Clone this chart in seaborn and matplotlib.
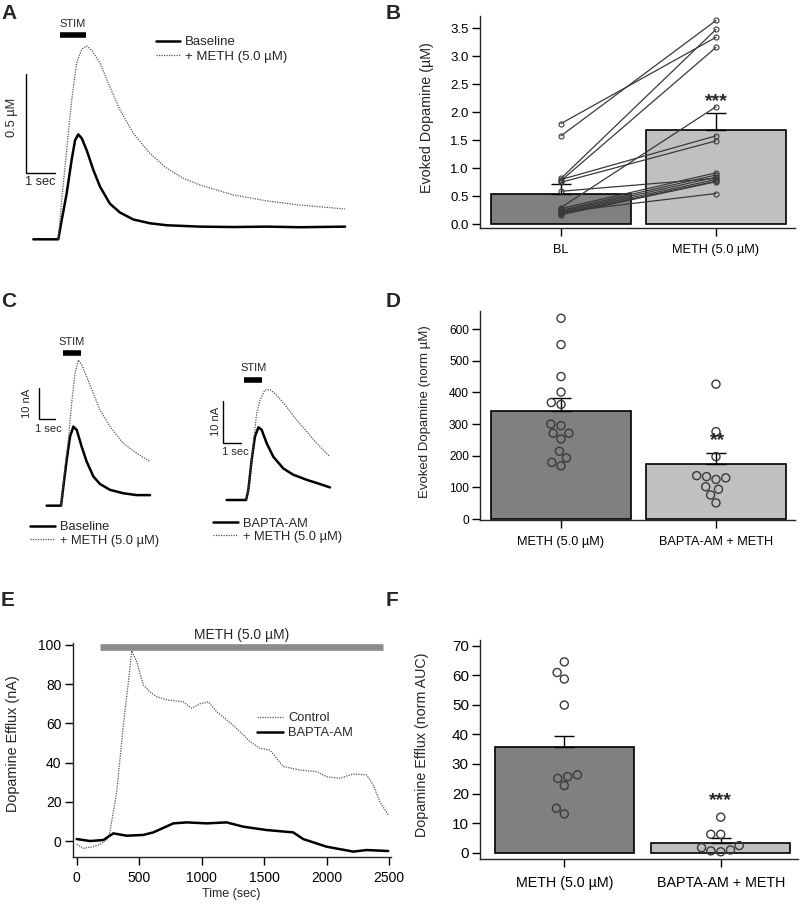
import numpy as np
import pandas as pd
import matplotlib
matplotlib.use("Agg")
import matplotlib.pyplot as plt
import seaborn as sns

# ---------------- data ----------------
# Panel A traces (time in s, dopamine in µM)
a_base_t = [0, 0.86, 0.98, 1.15, 1.32, 1.44, 1.55, 1.67, 1.84, 2.07, 2.30, 2.64, 2.99, 3.45, 4.02, 4.60, 5.75, 6.90, 8.05, 9.20, 10.75]
a_base_v = [0, 0, 0.098, 0.232, 0.40, 0.50, 0.53, 0.51, 0.45, 0.35, 0.266, 0.18, 0.135, 0.10, 0.081, 0.071, 0.064, 0.062, 0.064, 0.061, 0.064]
a_meth_t = [0.86, 0.98, 1.15, 1.32, 1.49, 1.67, 1.84, 2.01, 2.30, 2.64, 2.99, 3.45, 4.02, 4.60, 5.17, 5.75, 6.90, 8.05, 9.20, 10.75]
a_meth_v = [0, 0.20, 0.45, 0.70, 0.89, 0.96, 0.976, 0.956, 0.89, 0.77, 0.653, 0.535, 0.434, 0.359, 0.308, 0.274, 0.224, 0.194, 0.173, 0.153]

# Panel B
b_categories = ["BL", "METH (5.0 µM)"]
b_means = [0.55, 1.68]
b_sem = [0.17, 0.30]
b_bl = [1.80, 1.58, 0.82, 0.78, 0.80, 0.75, 0.30, 0.28, 0.25, 0.23, 0.21, 0.19, 0.17, 0.22, 0.59]
b_meth = [3.34, 3.64, 3.48, 3.16, 1.58, 1.49, 2.10, 0.92, 0.88, 0.84, 0.80, 0.77, 0.76, 0.55, 0.82]
b_yticks = [0.0, 0.5, 1.0, 1.5, 2.0, 2.5, 3.0, 3.5]

# Panel C left (time s, current nA)
cl_base_t = [0, 0.9, 1.04, 1.25, 1.46, 1.67, 1.88, 2.19, 2.5, 2.92, 3.33, 3.96, 4.79, 5.63, 6.46]
cl_base_v = [0, 0, 6.1, 14.7, 22.3, 25.5, 24.4, 19.0, 14.2, 9.4, 7.0, 5.1, 4.0, 3.4, 3.4]
cl_meth_t = [0.9, 1.15, 1.35, 1.56, 1.77, 1.98, 2.19, 2.5, 2.92, 3.33, 3.96, 4.79, 5.63, 6.46]
cl_meth_v = [0, 12.6, 21.2, 33.0, 42.7, 47.0, 45.4, 41.6, 36.2, 30.9, 25.5, 20.1, 16.9, 14.2]
# Panel C right
cr_base_t = [0, 1.12, 1.25, 1.44, 1.63, 1.83, 2.02, 2.31, 2.69, 3.27, 3.85, 4.62, 5.38, 5.96]
cr_base_v = [0, 0, 2.4, 9.5, 15.1, 17.3, 16.7, 13.5, 10.3, 7.5, 6.0, 4.8, 3.8, 3.0]
cr_meth_t = [1.12, 1.25, 1.44, 1.58, 1.73, 1.92, 2.21, 2.5, 2.88, 3.46, 4.04, 4.62, 5.19, 5.96]
cr_meth_v = [0, 2.4, 9.5, 15.1, 20.6, 23.8, 26.2, 26.3, 25.0, 22.2, 19.0, 16.3, 13.5, 10.3]

# Panel D
d_categories = ["METH (5.0 µM)", "BAPTA-AM + METH"]
d_means = [341, 174]
d_sem = [40, 35]
d_meth = [634, 551, 450, 401, 368, 362, 300, 295, 271, 271, 253, 214, 193, 179, 168]
d_bapta = [426, 276, 197, 137, 134, 130, 125, 102, 94, 76, 51]
d_yticks = [0, 100, 200, 300, 400, 500, 600]

# Panel E (time s, efflux nA)
e_ctrl_t = [0, 53, 133, 187, 240, 266, 320, 373, 413, 440, 480, 533, 586, 640, 720, 853, 919, 986, 1053, 1119, 1253, 1386, 1466, 1546, 1652, 1786, 1919, 1999, 2105, 2212, 2319, 2372, 2425, 2492]
e_ctrl_v = [-1.7, -3.7, -2.9, -1.7, 0.5, 4.8, 25, 59, 81, 97, 91.5, 79.6, 76, 73.6, 72, 71, 67.7, 70, 71, 66, 59, 50.7, 47.3, 46.4, 38, 36.2, 35.4, 32.8, 32, 34.2, 33.7, 28.6, 20, 13.3]
e_bapta_t = [0, 107, 213, 293, 400, 533, 613, 773, 880, 1040, 1199, 1333, 1519, 1732, 1812, 1999, 2212, 2319, 2492]
e_bapta_v = [1.0, 0, 0.5, 3.9, 2.7, 3.1, 4.4, 9, 9.5, 9, 9.5, 7.3, 5.6, 4.4, 1, -2.9, -5.4, -4.6, -5.1]
e_xticks = [0, 500, 1000, 1500, 2000, 2500]
e_yticks = [0, 20, 40, 60, 80, 100]
e_meth_window = [186, 2448]

# Panel F
f_categories = ["METH (5.0 µM)", "BAPTA-AM + METH"]
f_means = [35.6, 3.4]
f_sem = [4.0, 1.5]
f_meth = [64.5, 60.9, 58.7, 49.9, 26.3, 25.7, 25.1, 22.7, 15.0, 13.1]
f_bapta = [12.0, 6.2, 6.2, 2.4, 1.7, 0.9, 0.6, 0.3]
f_yticks = [0, 10, 20, 30, 40, 50, 60, 70]

# ---------------- style ----------------
sns.set_style("ticks")
plt.rcParams["font.family"] = ["Liberation Sans", "DejaVu Sans"]
plt.rcParams["axes.linewidth"] = 1.0
DARK = "#808080"
LIGHT = "#c0c0c0"
PT = "#3a3a3a"

W, H = 800, 908
fig = plt.figure(figsize=(W / 100, H / 100), dpi=100)


def px_axes(x0, y0, x1, y1):
    return fig.add_axes([x0 / W, 1 - y1 / H, (x1 - x0) / W, (y1 - y0) / H])


def fxy(x, y):
    return (x / W, 1 - y / H)


def style_axes(ax, xfs, yfs):
    sns.despine(ax=ax)
    ax.tick_params(direction="out", length=5.5, width=1, pad=2.5, colors="black")
    ax.tick_params(axis="x", labelsize=xfs)
    ax.tick_params(axis="y", labelsize=yfs)


def bar_panel(ax, cats, means, sems, width):
    df = pd.DataFrame({"cond": cats, "val": means})
    sns.barplot(data=df, x="cond", y="val", hue="cond", order=cats, hue_order=cats,
                palette=[DARK, LIGHT], saturation=1, width=width, edgecolor="black",
                linewidth=1.2, errorbar=None, legend=False, ax=ax, zorder=1)
    ax.errorbar(range(len(cats)), means, yerr=[np.zeros(len(cats)), sems], fmt="none",
                ecolor="black", elinewidth=1, capsize=7, capthick=1, zorder=2)


def swarm(ax, cats, groups, size):
    long = pd.DataFrame({"cond": sum([[c] * len(g) for c, g in zip(cats, groups)], []),
                         "val": sum([list(g) for g in groups], [])})
    n0 = len(ax.collections)
    sns.swarmplot(data=long, x="cond", y="val", order=cats, color="white", size=size, ax=ax, zorder=3)
    for c in ax.collections[n0:]:
        c.set_facecolor("none")
        c.set_edgecolor(PT)
        c.set_linewidth(1.0)


def trace_axes(rect_px, xlim, ylim):
    ax = px_axes(*rect_px)
    ax.set_xlim(*xlim)
    ax.set_ylim(*ylim)
    ax.axis("off")
    return ax


def draw_trace(ax, t, v, dotted, label):
    if dotted:
        sns.lineplot(x=t, y=v, estimator=None, sort=False, color="#555555", linewidth=0.9,
                     linestyle=(0, (1, 1)), ax=ax, label=label)
    else:
        sns.lineplot(x=t, y=v, estimator=None, sort=False, color="black", linewidth=1.8,
                     ax=ax, label=label)


def scalebar(ax, x0, y0, dx, dy, vlabel, hlabel, vlab_xy, hlab_xy, fs):
    ax.plot([x0, x0, x0 + dx], [y0 + dy, y0, y0], color="black", lw=1.0, solid_joinstyle="miter")
    ax.text(*vlab_xy, vlabel, rotation=90, ha="center", va="center", fontsize=fs)
    ax.text(*hlab_xy, hlabel, ha="center", va="center", fontsize=fs)


def stim(ax, t0, t1, y, ty):
    ax.plot([t0, t1], [y, y], color="black", lw=4, solid_capstyle="butt")
    ax.text((t0 + t1) / 2, ty, "STIM", ha="center", va="center", fontsize=8)


def trace_legend(ax, anchor_px, spacing, handlelen, fs):
    leg = ax.legend(loc="center left", bbox_to_anchor=fxy(*anchor_px), bbox_transform=fig.transFigure,
                    frameon=False, fontsize=fs, borderpad=0, borderaxespad=0,
                    handlelength=handlelen, handletextpad=0.4, labelspacing=spacing)
    return leg


# ---------------- Panel A ----------------
axA = trace_axes((0, 0, 360, 250), (-1.149, 11.265), (-0.054, 1.2086))
draw_trace(axA, a_base_t, a_base_v, False, "Baseline")
draw_trace(axA, a_meth_t, a_meth_v, True, "+ METH (5.0 µM)")
stim(axA, 0.92, 1.82, 1.034, 1.085)
scalebar(axA, -0.25, 0.333, 1.0, 0.5, "0.5 µM", "1 sec", (-0.72, 0.618), (0.23, 0.29), 9.2)
trace_legend(axA, (156, 49.5), 0.2, 1.8, 9.5)

# ---------------- Panel B ----------------
axB = px_axes(480, 16, 795, 228)
bar_panel(axB, b_categories, b_means, b_sem, 0.9)
n = len(b_bl)
pairs = pd.DataFrame({"subject": list(range(n)) * 2, "x": [0] * n + [1] * n, "val": b_bl + b_meth})
sns.lineplot(data=pairs, x="x", y="val", units="subject", estimator=None, color=PT, linewidth=0.9,
             marker="o", markersize=3.6, markerfacecolor="none", markeredgecolor=PT,
             markeredgewidth=0.8, legend=False, ax=axB, zorder=3)
axB.set_xlim(-0.523, 1.51)
axB.set_ylim(-0.066, 3.72)
axB.set_xticks([0, 1])
axB.set_xticklabels(b_categories)
axB.set_yticks(b_yticks)
axB.set_yticklabels([f"{v:.1f}" for v in b_yticks])
axB.set_xlabel("")
axB.set_ylabel("Evoked Dopamine (µM)", fontsize=10.3)
axB.yaxis.set_label_coords(-0.145, 0.52)
style_axes(axB, 9.2, 9.5)
axB.tick_params(axis="x", pad=6)
axB.text(1, 2.19, "***", ha="center", va="center", fontsize=14, fontweight="bold")

# ---------------- Panel C ----------------
axCL = trace_axes((0, 330, 200, 560), (-2.917, 9.583), (-17.53, 56.67))
draw_trace(axCL, cl_base_t, cl_base_v, False, "Baseline")
draw_trace(axCL, cl_meth_t, cl_meth_v, True, "+ METH (5.0 µM)")
stim(axCL, 1.0, 2.15, 49.4, 52.9)
scalebar(axCL, -0.48, 27.8, 1.0, 10.0, "10 nA", "1 sec", (-1.2, 33.1), (0.1, 24.7), 8)
trace_legend(axCL, (30, 534), 0.1, 1.9, 9.3)

axCR = trace_axes((200, 330, 400, 560), (-1.539, 10.0), (-14.29, 40.48))
draw_trace(axCR, cr_base_t, cr_base_v, False, "BAPTA-AM")
draw_trace(axCR, cr_meth_t, cr_meth_v, True, "+ METH (5.0 µM)")
stim(axCR, 1.02, 2.04, 28.6, 31.4)
scalebar(axCR, -0.19, 13.65, 1.0, 10.0, "10 nA", "1 sec", (-0.62, 18.6), (0.48, 11.4), 8)
trace_legend(axCR, (213, 530.3), 0.1, 1.9, 9.3)

# ---------------- Panel D ----------------
axD = px_axes(480, 310.7, 795, 520.3)
bar_panel(axD, d_categories, d_means, d_sem, 0.9)
swarm(axD, d_categories, [d_meth, d_bapta], 5.8)
axD.set_xlim(-0.523, 1.51)
axD.set_ylim(-4, 658)
axD.set_yticks(d_yticks)
axD.set_xlabel("")
axD.set_ylabel("Evoked Dopamine (norm µM)", fontsize=9.5)
axD.yaxis.set_label_coords(-0.154, 0.52)
style_axes(axD, 9.2, 8.6)
axD.tick_params(axis="x", pad=6)
axD.text(1.01, 249, "**", ha="center", va="center", fontsize=14, fontweight="bold")

# ---------------- Panel E ----------------
axE = px_axes(72.7, 643, 390.5, 856.7)
sns.lineplot(x=e_ctrl_t, y=e_ctrl_v, estimator=None, sort=False, color="#555555", linewidth=0.9,
             linestyle=(0, (1, 1)), ax=axE, label="Control")
sns.lineplot(x=e_bapta_t, y=e_bapta_v, estimator=None, sort=False, color="black", linewidth=1.8,
             ax=axE, label="BAPTA-AM")
axE.plot(e_meth_window, [98.8, 98.8], color="#8c8c8c", lw=4.8, solid_capstyle="butt", clip_on=False)
axE.text(np.mean(e_meth_window), 101.3, "METH (5.0 µM)", ha="center", va="bottom", fontsize=10)
axE.set_xlim(-32, 2510)
axE.set_ylim(-8, 101)
axE.set_xticks(e_xticks)
axE.set_yticks(e_yticks)
axE.set_xlabel("Time (sec)", fontsize=9, labelpad=2)
axE.set_ylabel("Dopamine Efflux (nA)", fontsize=10.4)
axE.yaxis.set_label_coords(-0.167, 0.53)
style_axes(axE, 10, 10)
axE.tick_params(axis="x", pad=5)
trace_legend(axE, (257, 725.8), 0.25, 2.0, 9.3)

# ---------------- Panel F ----------------
axF = px_axes(480, 640, 798, 859)
bar_panel(axF, f_categories, f_means, f_sem, 0.89)
swarm(axF, f_categories, [f_meth, f_bapta], 5.8)
axF.set_xlim(-0.539, 1.494)
axF.set_ylim(-2.14, 71.9)
axF.set_yticks(f_yticks)
axF.set_xlabel("")
axF.set_ylabel("Dopamine Efflux (norm AUC)", fontsize=10.3)
axF.yaxis.set_label_coords(-0.159, 0.52)
style_axes(axF, 10.3, 11)
axF.tick_params(axis="x", pad=7)
axF.text(1, 17.5, "***", ha="center", va="center", fontsize=14, fontweight="bold")

# ---------------- panel letters ----------------
for letter, (x, y) in {"A": (1, 4), "B": (386, 4), "C": (1, 292), "D": (386, 292),
                       "E": (1, 591), "F": (386, 591)}.items():
    fig.text(*fxy(x, y), letter, ha="left", va="top", fontsize=15, fontweight="bold")

fig.savefig("out.png", dpi=100)
